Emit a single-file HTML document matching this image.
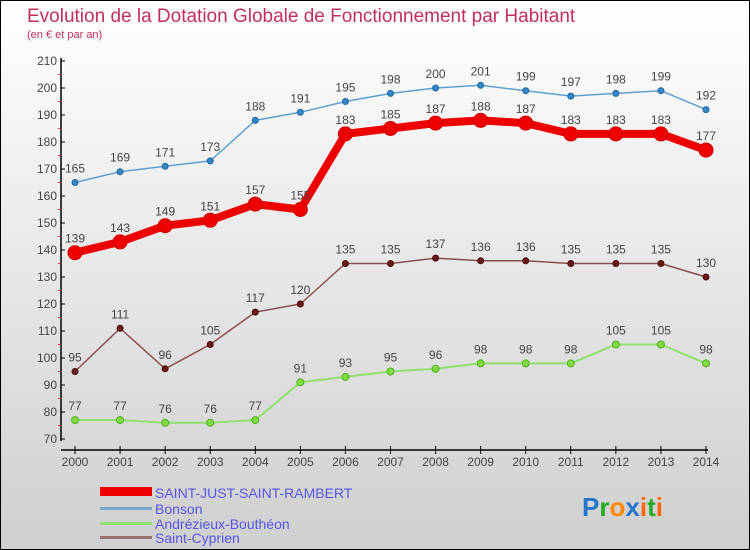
<!DOCTYPE html>
<html><head><meta charset="utf-8"><style>
html,body{margin:0;padding:0}
body{width:750px;height:550px;overflow:hidden;font-family:"Liberation Sans",sans-serif}
#wrap{position:absolute;left:0;top:0;width:748px;height:548px;border:1px solid #000;background:linear-gradient(#ffffff,#cfcfcf)}
</style></head><body>
<div id="wrap">
<svg id="chart" width="750" height="550" style="position:absolute;left:-1px;top:-1px">
<text x="27" y="22" font-size="19" fill="#c0305a">Evolution de la Dotation Globale de Fonctionnement par Habitant</text>
<text x="27" y="38" font-size="11" fill="#c0305a">(en € et par an)</text>
<g id="axes"></g><g id="series"></g>
<g>
<rect x="100" y="487" width="52" height="9" fill="#ee0000"/>
<text x="155" y="498" font-size="14" fill="#5555ee">SAINT-JUST-SAINT-RAMBERT</text>
<rect x="100" y="507" width="52" height="3" fill="#7aa7cc"/>
<text x="155" y="514" font-size="14" fill="#5555ee">Bonson</text>
<rect x="100" y="522" width="52" height="3" fill="#90e070"/>
<text x="155" y="529" font-size="14" fill="#5555ee">Andrézieux-Bouthéon</text>
<rect x="100" y="536" width="52" height="3" fill="#9a7070"/>
<text x="155" y="543" font-size="14" fill="#5555ee">Saint-Cyprien</text>
</g>
<text x="582" y="516" font-size="26" font-weight="bold"><tspan fill="#2277cc">P</tspan><tspan fill="#22aa22">r</tspan><tspan fill="#ff8800">o</tspan><tspan fill="#2277cc">x</tspan><tspan fill="#ff6600">i</tspan><tspan fill="#22aa22">t</tspan><tspan fill="#ff6600">i</tspan></text>
</svg></div>
<script>
const years=[2000,2001,2002,2003,2004,2005,2006,2007,2008,2009,2010,2011,2012,2013,2014];
const yTicks=[70,80,90,100,110,120,130,140,150,160,170,180,190,200,210];
const saintJust=[139,143,149,151,157,155,183,185,187,188,187,183,183,183,177];
const bonson=[165,169,171,173,188,191,195,198,200,201,199,197,198,199,192];
const andrezieux=[77,77,76,76,77,91,93,95,96,98,98,98,105,105,98];
const saintCyprien=[95,111,96,105,117,120,135,135,137,136,136,135,135,135,130];
const NS="http://www.w3.org/2000/svg";
const xs=i=>75+i*(706-75)/(years.length-1);
const ys=v=>439-(v-70)*(439-61)/140;
function mk(t,a,p){const e=document.createElementNS(NS,t);for(const k in a)e.setAttribute(k,a[k]);p.appendChild(e);return e;}
const ax=document.getElementById('axes');
let yl=mk('line',{x1:61,y1:58,x2:61,y2:441,stroke:'#000','stroke-width':1.5},ax);


let xl=mk('line',{x1:61,y1:450,x2:708,y2:450,stroke:'#000','stroke-width':1.5},ax);


yTicks.forEach((v,i)=>{const y=ys(v);
 mk('line',{x1:61,y1:y,x2:65,y2:y,stroke:'#000'},ax);
 if(i<yTicks.length-1)mk('line',{x1:58,y1:y-13.5,x2:61,y2:y-13.5,stroke:'#e03030'},ax);
 const t=mk('text',{x:57,y:y+4,'font-size':12,'text-anchor':'end',fill:'#444'},ax);t.textContent=v;
 
 });
years.forEach((yr,i)=>{const x=xs(i);
 mk('line',{x1:x,y1:446,x2:x,y2:454,stroke:'#000'},ax);
 const t=mk('text',{x:x,y:466,'font-size':12,'text-anchor':'middle',fill:'#444'},ax);t.textContent=yr;
 
 });
const sg=document.getElementById('series');
function series(data,name,color,dot,w,r,stroke){
 const g=mk('g',{},sg);
 
 
 mk('polyline',{points:data.map((v,i)=>xs(i)+','+ys(v)).join(' '),fill:'none',stroke:color,'stroke-width':w,'stroke-linejoin':'round'},g);
 data.forEach((v,i)=>{const c=mk('circle',{cx:xs(i),cy:ys(v),r:r,fill:dot,stroke:stroke,'stroke-width':1},g);
  
  
  const t=mk('text',{x:xs(i),y:ys(v)-10,'font-size':12,'text-anchor':'middle',fill:'#444'},g);t.textContent=v;
  
  });
}
series(andrezieux,'andrezieux-series','#90e070','#80dd40',2,3.5,'#55aa22');
series(saintCyprien,'saint-cyprien-series','#8a5050','#6a1a1a',1.5,3,'#4a0a0a');
series(bonson,'bonson-series','#5f9fd0','#3388cc',1.5,3,'#226699');
series(saintJust,'saint-just-series','#ee0000','#ee0000',8,7,'#cc0000');
</script>
</body></html>
